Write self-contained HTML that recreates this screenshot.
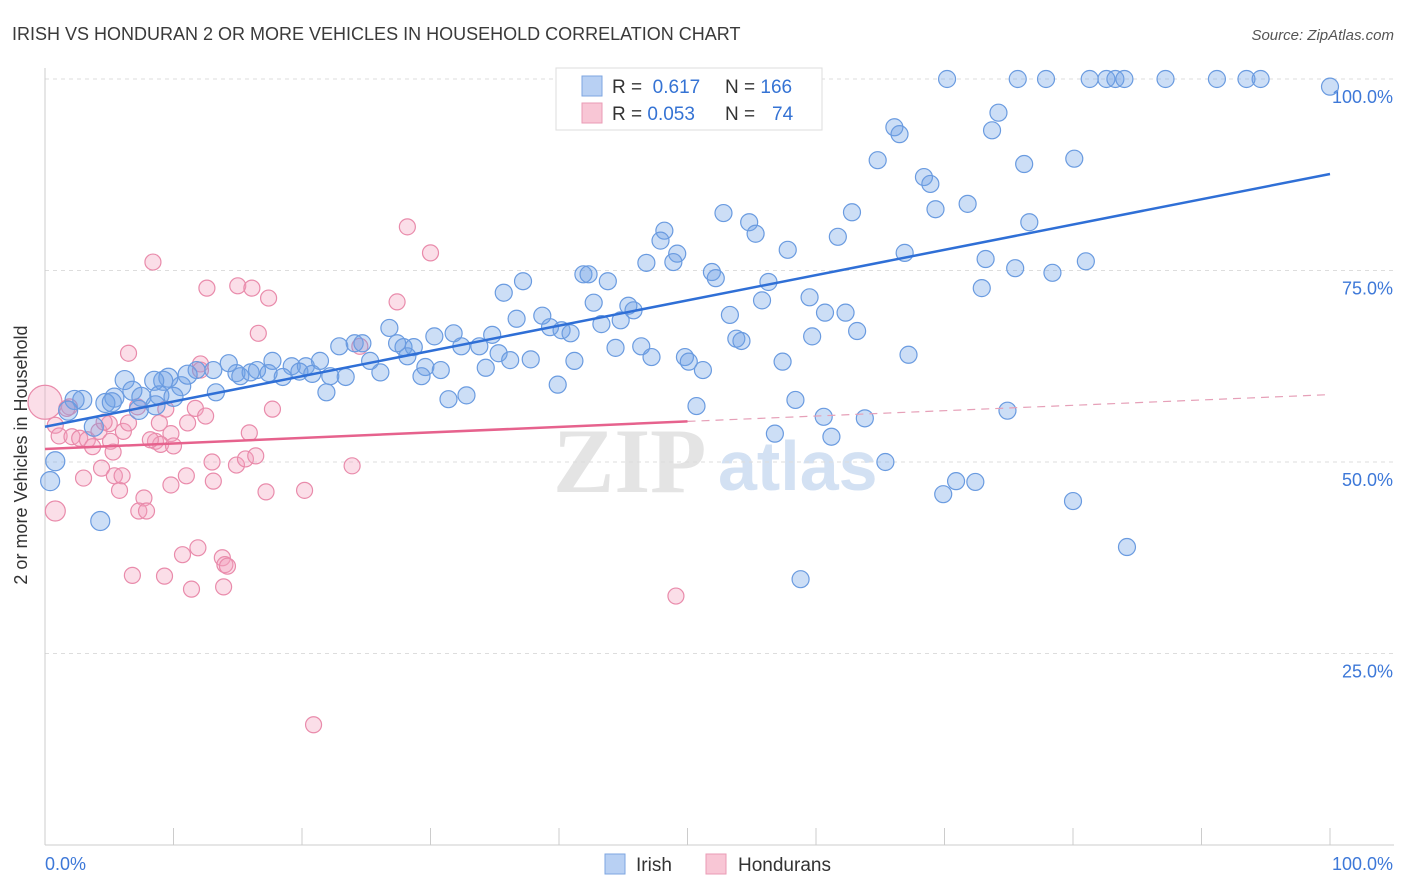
<!DOCTYPE html>
<html><head><meta charset="utf-8">
<style>
body{margin:0;background:#fff;font-family:"Liberation Sans",sans-serif;}
svg{display:block}
</style></head>
<body>
<svg id="chart" width="1406" height="892">
<text x="12" y="40" font-size="18" fill="#3a3a3a">IRISH VS HONDURAN 2 OR MORE VEHICLES IN HOUSEHOLD CORRELATION CHART</text>
<text x="1394" y="40" font-size="15" fill="#555" font-style="italic" text-anchor="end">Source: ZipAtlas.com</text>
<g>
<text x="553" y="492" font-size="92" font-family="Liberation Serif" fill="#e4e4e4" font-weight="bold">ZIP</text>
<text x="718" y="490" font-size="70" fill="#d3e1f3" font-weight="bold">atlas</text>
</g>
<g id="grid"></g>
<g id="axes"></g>
<g id="pink"></g>
<g id="blue"></g>
<g id="trends"></g>
<text x="27" y="455" font-size="18" fill="#333" text-anchor="middle" transform="rotate(-90 27 455)">2 or more Vehicles in Household</text>
<g>
<rect x="556" y="68" width="266" height="62" fill="#fff" stroke="#ddd"/>
<rect x="582" y="76" width="20" height="20" fill="#b8d0f3" stroke="#7ea6e0"/>
<rect x="582" y="103" width="20" height="20" fill="#f8c6d5" stroke="#ea9bb5"/>
<text x="612" y="93" font-size="19" fill="#333">R = <tspan fill="#3573d4">&#160;0.617</tspan>   <tspan x="725">N = </tspan><tspan fill="#3573d4">166</tspan></text>
<text x="612" y="120" font-size="19" fill="#333">R = <tspan fill="#3573d4">0.053</tspan><tspan x="725">N = </tspan><tspan x="772" fill="#3573d4">74</tspan></text>
</g>
<g>
<rect x="605" y="854" width="20" height="20" fill="#b8d0f3" stroke="#7ea6e0"/>
<text x="636" y="871" font-size="19" fill="#333">Irish</text>
<rect x="706" y="854" width="20" height="20" fill="#f8c6d5" stroke="#ea9bb5"/>
<text x="738" y="871" font-size="19" fill="#333">Hondurans</text>
</g>
</svg>
<script>
const yTicks=[25,50,75,100];
const yTickLabels=["25.0%","50.0%","75.0%","100.0%"];
const xTicks=[0,10,20,30,40,50,60,70,80,90,100];
const irishX=[70.2,75.7,77.9,81.3,82.6,83.3,84.0,87.2,91.2,93.5,94.6,100,74.2,66.1,66.5,73.7,64.8,76.2,80.1,68.4,68.9,69.3,71.8,62.8,52.8,54.8,55.3,61.7,76.6,48.2,47.9,49.2,48.9,46.8,57.8,66.9,73.2,75.5,78.4,81.0,72.9,41.9,42.3,43.8,37.2,51.9,52.2,56.3,59.5,55.8,35.7,42.7,45.4,45.8,43.3,44.8,36.7,38.7,39.3,40.2,40.9,53.3,60.7,62.3,63.2,59.7,26.8,30.3,31.8,34.8,53.8,54.2,44.4,46.4,47.2,49.8,50.1,51.2,57.4,67.2,22.9,24.1,24.7,27.9,28.7,27.4,32.4,33.8,35.3,36.2,37.8,41.2,25.3,26.1,28.2,29.6,30.8,34.3,29.3,39.9,32.8,31.4,17.7,19.2,20.3,21.4,16.5,14.9,14.3,13.1,11.8,10.6,9.6,11.1,9.2,8.5,6.2,6.8,5.4,4.7,7.5,8.9,10.0,13.3,15.2,16.0,17.4,18.5,19.8,20.8,22.2,23.4,21.9,8.6,2.9,2.3,1.8,3.8,7.3,0.8,0.4,4.3,50.7,58.4,60.6,63.8,56.8,61.2,65.4,74.9,69.9,70.9,72.4,80.0,84.2,58.8,5.2];
const irishY=[100,100,100,100,100,100,100,100,100,100,100,99,95.6,93.7,92.8,93.3,89.4,88.9,89.6,87.2,86.3,83.0,83.7,82.6,82.5,81.3,79.8,79.4,81.3,80.2,78.9,77.2,76.1,76.0,77.7,77.3,76.5,75.3,74.7,76.2,72.7,74.5,74.5,73.6,73.6,74.8,74.0,73.5,71.5,71.1,72.1,70.8,70.4,69.8,68.0,68.5,68.7,69.1,67.6,67.2,66.8,69.2,69.5,69.5,67.1,66.4,67.5,66.4,66.8,66.6,66.1,65.8,64.9,65.1,63.7,63.7,63.1,62.0,63.1,64.0,65.1,65.5,65.5,65.0,65.0,65.5,65.1,65.1,64.2,63.3,63.4,63.2,63.2,61.7,63.8,62.4,62.0,62.3,61.2,60.1,58.7,58.2,63.2,62.5,62.5,63.2,62.0,61.6,62.9,62.0,62.0,59.9,61.0,61.4,60.6,60.6,60.7,59.3,58.4,57.7,58.5,58.7,58.5,59.1,61.2,61.7,61.6,61.1,61.8,61.5,61.2,61.1,59.1,57.4,58.1,58.1,56.7,54.6,56.8,50.1,47.5,42.3,57.3,58.1,55.9,55.7,53.7,53.3,50.0,56.7,45.8,47.5,47.4,44.9,38.9,34.7,57.8];
const hondX=[0,1.9,0.8,1.1,2.1,2.7,3.3,4.2,3.7,5.0,4.6,6.1,6.5,7.2,5.1,4.4,3.0,0.8,1.7,6.5,8.4,12.6,15.0,16.1,17.4,16.6,12.1,12.1,9.4,8.9,9.8,11.1,11.7,12.5,8.6,9.0,10.0,5.4,5.8,6.0,7.7,7.3,7.9,11.0,9.8,13.0,13.1,14.9,15.6,16.4,15.9,17.7,17.2,20.2,23.9,28.2,30.0,27.4,10.7,11.9,13.8,14.0,14.2,11.4,6.8,9.3,13.9,49.1,20.9,24.5,5.3,8.2];
const hondY=[57.8,57.2,54.8,53.4,53.3,53.1,52.9,54.0,52.0,55.0,55.2,54.0,55.1,57.2,52.7,49.2,47.9,43.6,57.0,64.2,76.1,72.7,73.0,72.7,71.4,66.8,62.8,62.0,56.9,55.1,53.7,55.1,57.0,56.0,52.7,52.3,52.1,48.2,46.3,48.2,45.3,43.6,43.6,48.2,47.0,50.0,47.5,49.6,50.4,50.8,53.8,56.9,46.1,46.3,49.5,80.7,77.3,70.9,37.9,38.8,37.5,36.6,36.4,33.4,35.2,35.1,33.7,32.5,15.7,65.1,51.3,52.9];
const irishTrend=[[0,54.6],[100,87.6]];
const hondTrend=[[0,51.7],[50,55.3],[100,58.8]];
const NS="http://www.w3.org/2000/svg";
const X=v=>45+v*12.85;
const Y=v=>845-v*7.66;
function mk(tag,attrs,parent){const e=document.createElementNS(NS,tag);for(const k in attrs)e.setAttribute(k,attrs[k]);document.getElementById(parent).appendChild(e);return e;}
yTicks.forEach((t,i)=>{
 const l=mk('line',{x1:45,x2:1394,y1:Y(t),y2:Y(t),stroke:'#ddd','stroke-dasharray':'4,4'},'grid');
 
 
 const tx=mk('text',{x:1393,y:Y(t)+24,'font-size':18,fill:'#3d78d8','text-anchor':'end'},'axes');
 tx.textContent=yTickLabels[i];
 
 
});
const ax=mk('line',{x1:45,x2:1394,y1:845,y2:845,stroke:'#ccc'},'axes');


const ay=mk('line',{x1:45,x2:45,y1:68,y2:845,stroke:'#ccc'},'axes');


xTicks.forEach(t=>{
 const l=mk('line',{x1:X(t),x2:X(t),y1:828,y2:845,stroke:'#ccc'},'axes');
 
 
});
const xl0=mk('text',{x:45,y:870,'font-size':18,fill:'#3d78d8'},'axes');xl0.textContent='0.0%';


const xl1=mk('text',{x:1393,y:870,'font-size':18,fill:'#3d78d8','text-anchor':'end'},'axes');xl1.textContent='100.0%';


hondX.forEach((v,i)=>{
 const r=i===0?17:(i===17?10:8);
 const c=mk('circle',{cx:X(v),cy:Y(hondY[i]),r:r,fill:'rgba(244,160,190,0.35)',stroke:'#e98bab','stroke-width':1.2},'pink');
 
 
});
irishX.forEach((v,i)=>{
 const r=(v<12&&irishY[i]<62)?9.5:8.5;
 const c=mk('circle',{cx:X(v),cy:Y(irishY[i]),r:r,fill:'rgba(110,160,230,0.35)',stroke:'#6a9be0','stroke-width':1.2},'blue');
 
 
});
const bt=mk('line',{x1:X(irishTrend[0][0]),y1:Y(irishTrend[0][1]),x2:X(irishTrend[1][0]),y2:Y(irishTrend[1][1]),stroke:'#2f6fd6','stroke-width':2.5},'trends');


const pt=mk('line',{x1:X(hondTrend[0][0]),y1:Y(hondTrend[0][1]),x2:X(hondTrend[1][0]),y2:Y(hondTrend[1][1]),stroke:'#e6628d','stroke-width':2.5},'trends');


const pd=mk('line',{x1:X(hondTrend[1][0]),y1:Y(hondTrend[1][1]),x2:X(hondTrend[2][0]),y2:Y(hondTrend[2][1]),stroke:'#e6a0b8','stroke-width':1.2,'stroke-dasharray':'8,6'},'trends');


</script>
</body></html>
